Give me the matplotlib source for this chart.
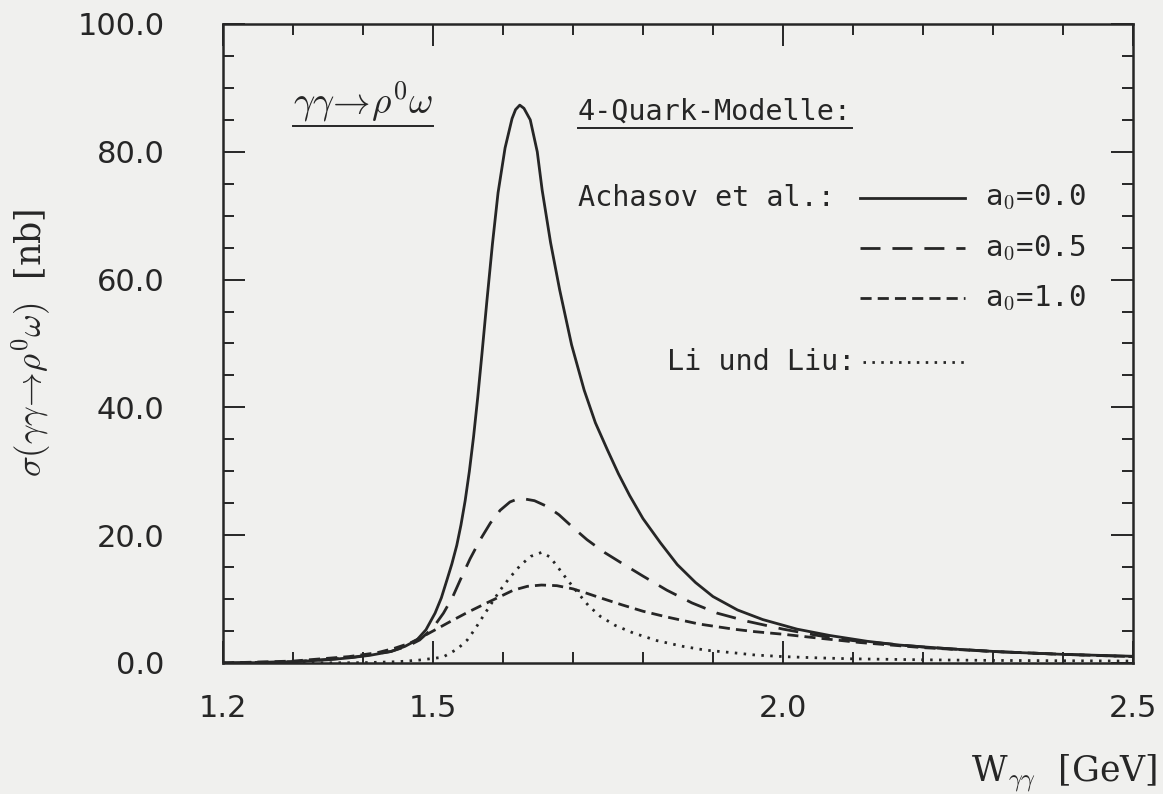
import numpy as np
import matplotlib
matplotlib.use("Agg")
import matplotlib.pyplot as plt
from matplotlib.ticker import FixedLocator, MultipleLocator, FormatStrFormatter

# cross sections sigma(gamma gamma -> rho0 omega) in nb vs W_gammagamma in GeV
w_a00 = [1.20, 1.25, 1.30, 1.35, 1.38, 1.41, 1.44, 1.46, 1.477, 1.49, 1.503,
         1.512, 1.520, 1.527, 1.534, 1.540, 1.546, 1.552, 1.558, 1.564, 1.570,
         1.577, 1.585, 1.593, 1.603, 1.613, 1.618, 1.624, 1.630, 1.639, 1.649,
         1.656, 1.668, 1.681, 1.698, 1.716, 1.732, 1.749, 1.765, 1.781, 1.800,
         1.825, 1.849, 1.875, 1.900, 1.935, 1.971, 2.020, 2.067, 2.120, 2.167,
         2.240, 2.310, 2.400, 2.500]
s_a00 = [0.0, 0.05, 0.2, 0.5, 0.8, 1.2, 1.8, 2.6, 3.6, 5.2, 7.8,
         10.2, 13.0, 15.5, 18.4, 21.6, 25.4, 30.0, 35.4, 41.6, 48.4,
         56.6, 65.6, 73.6, 80.6, 85.2, 86.6, 87.3, 86.8, 85.0, 80.0,
         74.0, 65.8, 58.4, 49.8, 42.7, 37.6, 33.4, 29.6, 26.2, 22.6,
         18.8, 15.4, 12.6, 10.4, 8.3, 6.8, 5.3, 4.3, 3.4, 2.8,
         2.2, 1.75, 1.35, 1.05]

w_a05 = [1.20, 1.30, 1.38, 1.44, 1.465, 1.481, 1.500, 1.515, 1.528, 1.539, 1.553,
         1.567, 1.582, 1.596, 1.610, 1.624, 1.645, 1.663, 1.680, 1.700, 1.720,
         1.745, 1.770, 1.800, 1.834, 1.870, 1.906, 1.950, 2.000, 2.050, 2.100,
         2.200, 2.300, 2.400, 2.500]
s_a05 = [0.0, 0.2, 0.8, 1.8, 2.7, 3.6, 5.5, 7.8, 10.3, 13.0, 16.3,
         19.2, 21.9, 23.9, 25.2, 25.8, 25.4, 24.5, 23.2, 21.2, 19.3,
         17.3, 15.6, 13.6, 11.4, 9.4, 7.8, 6.5, 5.3, 4.3, 3.5,
         2.5, 1.8, 1.35, 1.0]

w_a10 = [1.20, 1.30, 1.38, 1.42, 1.445, 1.467, 1.485, 1.500, 1.525, 1.549, 1.575,
         1.596, 1.615, 1.635, 1.655, 1.677, 1.700, 1.720, 1.739, 1.770, 1.800,
         1.834, 1.880, 1.929, 1.960, 2.000, 2.050, 2.110, 2.200, 2.300, 2.400,
         2.500]
s_a10 = [0.0, 0.3, 1.0, 1.6, 2.3, 3.1, 4.1, 5.0, 6.5, 7.9, 9.3,
         10.4, 11.4, 12.0, 12.2, 12.1, 11.6, 10.9, 10.2, 9.1, 8.1,
         7.2, 6.1, 5.3, 4.9, 4.5, 3.9, 3.2, 2.4, 1.8, 1.35,
         1.0]

w_li = [1.20, 1.30, 1.40, 1.45, 1.48, 1.514, 1.535, 1.549, 1.560, 1.571, 1.584,
        1.596, 1.610, 1.625, 1.640, 1.655, 1.667, 1.677, 1.690, 1.706, 1.722,
        1.739, 1.760, 1.786, 1.820, 1.857, 1.890, 1.929, 1.960, 2.000, 2.050,
        2.100, 2.200, 2.300, 2.500]
s_li = [0.0, 0.0, 0.05, 0.2, 0.45, 0.9, 2.2, 3.6, 5.3, 7.2, 9.4,
        11.4, 13.4, 15.3, 16.7, 17.3, 16.6, 15.2, 13.3, 11.1, 9.0,
        7.3, 5.9, 4.7, 3.5, 2.6, 2.0, 1.6, 1.25, 1.0, 0.8,
        0.65, 0.5, 0.4, 0.3]

x_ticks = [1.2, 1.5, 2.0, 2.5]
a0_labels = ["0.0", "0.5", "1.0"]

ink = "#262626"
paper = "#f0f0ee"
lw = 2.0

# dash patterns (in units of line width)
styles = {
    "a00": dict(linestyle="-"),
    "a05": dict(linestyle=(0, (7.2, 4.3))),
    "a10": dict(linestyle=(0, (4.0, 2.2))),
    "li": dict(linestyle=(0, (0.9, 2.3))),
}

fig = plt.figure(figsize=(11.63, 7.94), dpi=100, facecolor=paper)
ax = fig.add_axes([0.1917, 0.165, 0.7825, 0.8048])
ax.set_facecolor("none")

ax.plot(w_a00, s_a00, color=ink, lw=lw, **styles["a00"])
ax.plot(w_a05, s_a05, color=ink, lw=lw, **styles["a05"])
ax.plot(w_a10, s_a10, color=ink, lw=lw, **styles["a10"])
ax.plot(w_li, s_li, color=ink, lw=lw, **styles["li"])

ax.set_xlim(1.2, 2.5)
ax.set_ylim(0, 100)

ax.xaxis.set_major_locator(FixedLocator(x_ticks))
ax.xaxis.set_minor_locator(MultipleLocator(0.1))
ax.yaxis.set_major_locator(MultipleLocator(20))
ax.yaxis.set_minor_locator(MultipleLocator(5))
ax.xaxis.set_major_formatter(FormatStrFormatter("%.1f"))
ax.yaxis.set_major_formatter(FormatStrFormatter("%.1f"))

ax.tick_params(which="both", direction="in", top=True, right=True,
               color=ink, width=1.4, labelcolor=ink, labelsize=22)
ax.tick_params(which="major", length=16)
ax.tick_params(which="minor", length=8)
ax.tick_params(axis="y", which="major", pad=42)
ax.tick_params(axis="x", which="major", pad=22)
for s in ax.spines.values():
    s.set_linewidth(1.8)
    s.set_color(ink)

plt.rcParams["mathtext.fontset"] = "cm"

fig.text(0.027, 0.568, r"$\sigma(\gamma\gamma\!\rightarrow\!\rho^0\omega)$  [nb]",
         rotation=90, ha="center", va="center", fontsize=25, color=ink,
         family="DejaVu Serif")
fig.text(0.995, 0.016, r"W$_{\gamma\gamma}$  [GeV]", ha="right", va="baseline",
         fontsize=25, color=ink, family="DejaVu Serif")

mono = "DejaVu Sans Mono"
title = ax.text(0.077, 0.860, r"$\gamma\gamma\!\rightarrow\!\rho^0\omega$",
                transform=ax.transAxes, fontsize=27, color=ink, va="baseline")
head = ax.text(0.390, 0.850, "4-Quark-Modelle:", transform=ax.transAxes,
               fontsize=20.5, color=ink, family=mono, va="baseline")

rows_y = [0.728, 0.649, 0.571]
ax.text(0.390, rows_y[0], "Achasov et al.:", transform=ax.transAxes,
        fontsize=20.5, color=ink, family=mono, va="center")
for key, y, lab in zip(["a00", "a05", "a10"], rows_y, a0_labels):
    ax.plot([0.700, 0.815], [y, y], transform=ax.transAxes, color=ink, lw=lw,
            clip_on=False, **styles[key])
    ax.text(0.837, y, r"a$_0$=" + lab, transform=ax.transAxes, fontsize=21,
            color=ink, family=mono, va="center")

ax.text(0.695, 0.471, "Li und Liu:", transform=ax.transAxes, fontsize=20.5,
        color=ink, family=mono, va="center", ha="right")
ax.plot([0.703, 0.815], [0.471, 0.471], transform=ax.transAxes, color=ink,
        lw=lw, clip_on=False, **styles["li"])

# underline title and heading
fig.canvas.draw()
inv = ax.transAxes.inverted()
for t in (title, head):
    bb = t.get_window_extent()
    (x0, y0), (x1, y1) = inv.transform([[bb.x0, bb.y0], [bb.x1, bb.y1]])
    ax.plot([x0, x1], [y0 - 0.003, y0 - 0.003], transform=ax.transAxes,
            color=ink, lw=1.4)

fig.savefig("out.png", dpi=100, facecolor=paper)
